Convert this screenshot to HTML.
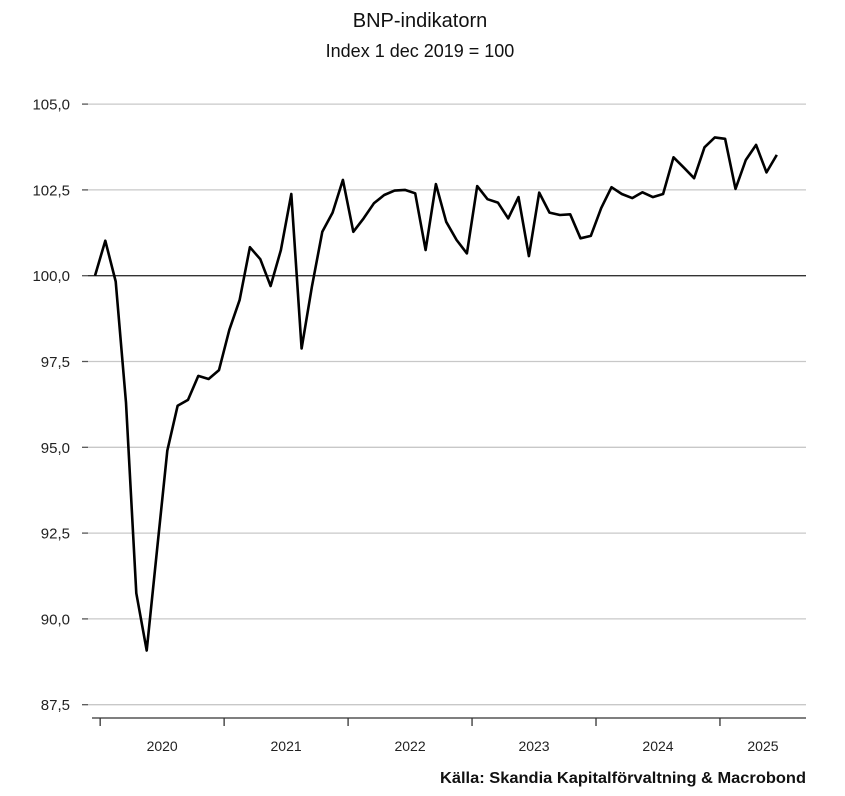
<!DOCTYPE html>
<html><head><meta charset="utf-8"><style>
body{margin:0;background:#fff;}
svg text{font-family:"Liberation Sans",sans-serif;}
</style></head><body>
<svg width="845" height="791" viewBox="0 0 845 791" xmlns="http://www.w3.org/2000/svg">
<text x="420" y="27" text-anchor="middle" font-size="20" fill="#111">BNP-indikatorn</text>
<text x="420" y="57" text-anchor="middle" font-size="18" fill="#111">Index 1 dec 2019 = 100</text>
<g id="grid"></g>
<g id="xaxis"></g>
<path id="line" fill="none" stroke="#000" stroke-width="2.6" stroke-linejoin="round"/>
<text x="806" y="783" text-anchor="end" font-size="15.5" font-weight="bold" fill="#111" textLength="366" lengthAdjust="spacingAndGlyphs">Källa: Skandia Kapitalförvaltning &amp; Macrobond</text>
</svg>
<script>
const values = [100.0,101.02,99.83,96.3,90.75,89.08,92.0,94.9,96.21,96.38,97.08,96.99,97.25,98.42,99.29,100.83,100.48,99.70,100.75,102.38,97.88,99.68,101.28,101.84,102.79,101.28,101.67,102.11,102.35,102.48,102.5,102.40,100.75,102.67,101.57,101.04,100.65,102.61,102.23,102.13,101.67,102.29,100.57,102.42,101.84,101.77,101.79,101.09,101.16,101.97,102.58,102.38,102.26,102.43,102.29,102.38,103.45,103.15,102.84,103.74,104.03,103.99,102.53,103.37,103.81,103.01,103.52];
const yTicks = [87.5,90,92.5,95,97.5,100,102.5,105];
const yTickLabels = ["87,5","90,0","92,5","95,0","97,5","100,0","102,5","105,0"];
const years = ["2020","2021","2022","2023","2024","2025"];
const NS="http://www.w3.org/2000/svg";
function y(v){return 275.7-(v-100)*34.32;}
function x(i){return 95+i*10.33;}
const grid=document.getElementById('grid');
yTicks.forEach((t,k)=>{
  const l=document.createElementNS(NS,'line');
  
  
  l.setAttribute('x1',88);l.setAttribute('x2',806);
  l.setAttribute('y1',y(t));l.setAttribute('y2',y(t));
  l.setAttribute('stroke',t===100?'#333':'#c8c8c8');l.setAttribute('stroke-width',1.3);
  grid.appendChild(l);
  const d=document.createElementNS(NS,'line');
  
  
  d.setAttribute('x1',82);d.setAttribute('x2',88);d.setAttribute('y1',y(t));d.setAttribute('y2',y(t));
  d.setAttribute('stroke','#555');d.setAttribute('stroke-width',1.3);
  grid.appendChild(d);
  const tx=document.createElementNS(NS,'text');
  
  
  tx.setAttribute('x',70);tx.setAttribute('y',y(t)+5.5);tx.setAttribute('text-anchor','end');
  tx.setAttribute('font-size','15');tx.setAttribute('fill','#222');
  tx.textContent=yTickLabels[k];grid.appendChild(tx);
});
const xa=document.getElementById('xaxis');
const ax=document.createElementNS(NS,'line');


ax.setAttribute('x1',92);ax.setAttribute('x2',806);ax.setAttribute('y1',718);ax.setAttribute('y2',718);
ax.setAttribute('stroke','#333');ax.setAttribute('stroke-width',1.3);xa.appendChild(ax);
years.forEach((yr,k)=>{
  const tx0=x(12*k+0.5);
  const t=document.createElementNS(NS,'line');
  
  
  t.setAttribute('x1',tx0);t.setAttribute('x2',tx0);t.setAttribute('y1',718);t.setAttribute('y2',726);
  t.setAttribute('stroke','#333');t.setAttribute('stroke-width',1.3);xa.appendChild(t);
  const lbl=document.createElementNS(NS,'text');
  
  
  const cx = k===years.length-1 ? (tx0+806)/2 : x(12*k+6.5);
  lbl.setAttribute('x',cx);lbl.setAttribute('y',751);lbl.setAttribute('text-anchor','middle');
  lbl.setAttribute('font-size','14');lbl.setAttribute('fill','#222');
  lbl.textContent=yr;xa.appendChild(lbl);
});
document.getElementById('line').setAttribute('d',values.map((v,i)=>(i?'L':'M')+x(i).toFixed(1)+','+y(v).toFixed(1)).join(''));
</script>
</body></html>
